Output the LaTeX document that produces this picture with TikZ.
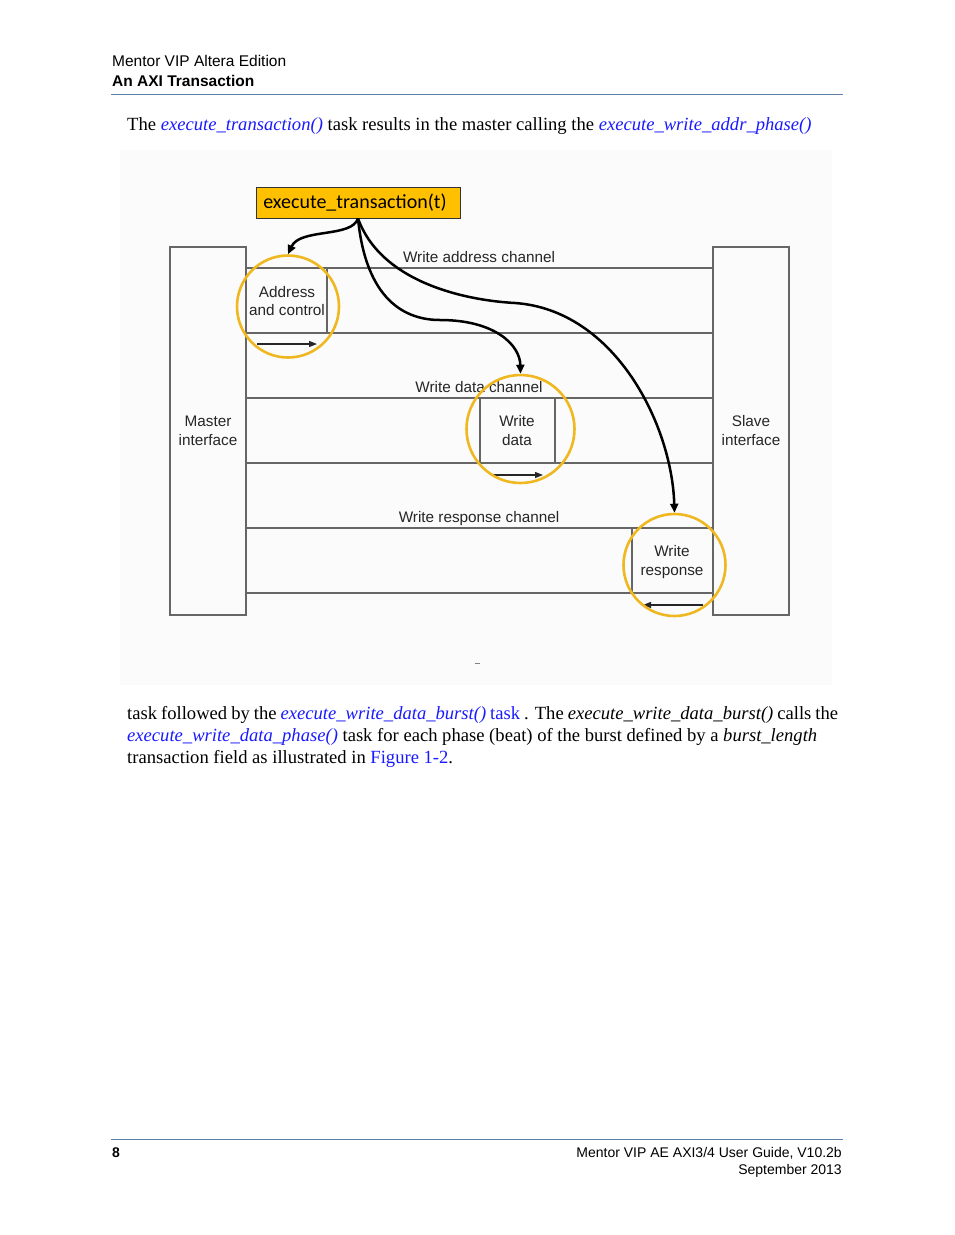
\documentclass[tikz,border=0pt]{standalone}
\usepackage{fontspec}
\setmainfont{Liberation Serif}
\newfontfamily\arial{Liberation Sans}
\newfontfamily\calib{Carlito}
\usetikzlibrary{arrows.meta}
\definecolor{linkblue}{HTML}{1A1AFF}
\definecolor{rulecol}{HTML}{5B7FA6}
\definecolor{chgray}{HTML}{666666}
\definecolor{ringcol}{HTML}{F0B820}
\definecolor{etfill}{HTML}{FFC000}
\begin{document}
\begin{tikzpicture}[x=1pt,y=-1pt,
  hdr/.style={font=\arial\fontsize{15.5}{17}\selectfont, inner sep=0pt},
  ftr/.style={font=\arial\fontsize{14}{17}\selectfont, inner sep=0pt},
  body/.style={font=\fontsize{18.6}{22}\selectfont, inner sep=0pt, anchor=base west},
  lbl/.style={font=\arial\fontsize{15.3}{17}\selectfont, inner sep=0pt, anchor=base, text=black!85},
  chline/.style={draw=chgray, line width=1.4pt},
  ring/.style={circle, draw=ringcol, line width=2.6pt, inner sep=0pt},
  call/.style={draw=black, line width=2.5pt, -{Triangle[length=9pt,width=8pt]}},
  small/.style={draw=black!85, line width=1.3pt, -{Triangle[length=8pt,width=6pt]}}
]
\useasboundingbox (0,0) rectangle (954,1235);
\fill[white] (0,0) rectangle (954,1235);
% header
\node[hdr, anchor=base west] (h1) at (112,66) {Mentor VIP Altera Edition};
\node[hdr, anchor=base west, font=\arial\bfseries\fontsize{15.5}{17}\selectfont] (h2) at (112,86) {An AXI Transaction};
\draw[rulecol, line width=1pt] (111,94.5) -- (843,94.5);
% body top line
\node[body] (b1) at (127,130) {The \textcolor{linkblue}{\itshape execute\_transaction()} task results in the master calling the \textcolor{linkblue}{\itshape execute\_write\_addr\_phase()}};
% diagram background
\fill[black!1.5] (120,150) rectangle (832,685);
% orange box
\node[draw=black!80, line width=0.8pt, fill=etfill, minimum width=204pt, minimum height=31pt, inner sep=0pt] (et) at (358,202.5) {};
\node[font=\calib\fontsize{20}{22}\selectfont, inner sep=0pt] (ett) at (355,202.5) {execute\_transaction(t)};
% interface boxes
\node[draw=chgray, line width=1.4pt, minimum width=76pt, minimum height=368pt, inner sep=0pt] (mi) at (208,431) {};
\node[draw=chgray, line width=1.4pt, minimum width=76pt, minimum height=368pt, inner sep=0pt] (si) at (751,431) {};
\node[lbl] (mit) at (208,426) {Master};
\node[lbl] (mit2) at (208,445) {interface};
\node[lbl] (sit) at (751,426) {Slave};
\node[lbl] (sit2) at (751,445) {interface};
% channels
\foreach \y in {268,333,398,463,528,593} \draw[chline] (246,\y) -- (713,\y);
\node[lbl] (wac) at (479,262) {Write address channel};
\node[lbl] (wdc) at (479,392) {Write data channel};
\node[lbl] (wrc) at (479,522) {Write response channel};
% address and control
\draw[chline] (327,268) -- (327,333);
\node[lbl] (ac1) at (287,297) {Address};
\node[lbl] (ac2) at (287,315.5) {and control};
\draw[small] (257,344) -- (317,344);
% write data
\draw[chline] (480,398) -- (480,463);
\draw[chline] (555,398) -- (555,463);
\node[lbl] (wd1) at (517,426) {Write};
\node[lbl] (wd2) at (517,445) {data};
\draw[small] (491,475) -- (543,475);
% write response
\draw[chline] (632,528) -- (632,593);
\node[lbl] (wr1) at (672,556) {Write};
\node[lbl] (wr2) at (672,575) {response};
\draw[small] (703,605) -- (643,605);
% rings
\node[ring, minimum size=102pt] (r1) at (288,306.5) {};
\node[ring, minimum size=108pt] (r2) at (520.5,429) {};
\node[ring, minimum size=102pt] (r3) at (674.5,565) {};
% call arrows
\draw[call] (et.south) .. controls (352,238) and (300,228) .. (r1.north);
\draw[call] (et.south) .. controls (366,300) and (405,320) .. (440,320) .. controls (495,320) and (520,345) .. (r2.north);
\draw[call] (et.south) .. controls (380,280) and (460,300) .. (515,303) .. controls (615,310) and (672,425) .. (r3.north);
\draw[black!50, line width=0.8pt] (475,663) -- (480,663);
% body bottom
\node[body] (b2) at (127,719) {\makebox[711pt][s]{task followed by the \textcolor{linkblue}{\itshape execute\_write\_data\_burst()} \textcolor{linkblue}{task} . The \textit{execute\_write\_data\_burst()} calls the}};
\node[body] (b3) at (127,741) {\textcolor{linkblue}{\itshape execute\_write\_data\_phase()} task for each phase (beat) of the burst defined by a \textit{burst\_length}};
\node[body] (b4) at (127,763) {transaction field as illustrated in \textcolor{linkblue}{Figure 1-2}.};
% footer
\draw[rulecol, line width=1pt] (111,1139) -- (843,1139);
\node[ftr, anchor=base west, font=\arial\bfseries\fontsize{14}{17}\selectfont] (f1) at (112,1157) {8};
\node[ftr, anchor=base east] (f2) at (842,1157) {Mentor VIP AE AXI3/4 User Guide, V10.2b};
\node[ftr, anchor=base east] (f3) at (842,1174) {September 2013};
\end{tikzpicture}
\end{document}
